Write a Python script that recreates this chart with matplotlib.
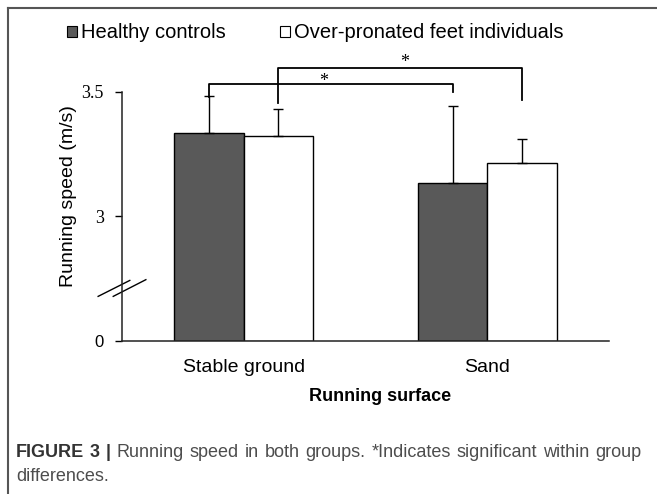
import numpy as np
import matplotlib.pyplot as plt
from matplotlib.lines import Line2D
from matplotlib.patches import Patch

# Data
surfaces = ['Stable ground', 'Sand']
groups = ['Healthy controls', 'Over-pronated feet individuals']
healthy_mean = [3.334, 3.135]
healthy_sd = [0.149, 0.308]
overpron_mean = [3.323, 3.215]
overpron_sd = [0.108, 0.096]
ytick_vals = [2.5, 3.0, 3.5]       # 2.5 is drawn as the broken "0"
ytick_labels = ['0', '3', '3.5']

dark = '#595959'
base = 2.5
width = 0.285

fig = plt.figure(figsize=(6.57, 4.94), dpi=100)
ax = fig.add_axes([122 / 657, 1 - 341 / 494, 487 / 657, (341 - 91.7) / 494])

x = np.arange(len(surfaces))
ax.bar(x - width / 2, np.array(healthy_mean) - base, width, bottom=base,
       color=dark, edgecolor='black', linewidth=1, zorder=2)
ax.bar(x + width / 2, np.array(overpron_mean) - base, width, bottom=base,
       color='white', edgecolor='black', linewidth=1, zorder=2)
ax.errorbar(x - width / 2, healthy_mean, yerr=[np.zeros(2), healthy_sd],
            fmt='none', ecolor='black', elinewidth=1, capsize=3.5, capthick=1, zorder=3)
ax.errorbar(x + width / 2, overpron_mean, yerr=[np.zeros(2), overpron_sd],
            fmt='none', ecolor='black', elinewidth=1, capsize=3.5, capthick=1, zorder=3)

# significance brackets
def bracket(x1, x2, y, y1, y2, tx, dy):
    ax.plot([x1, x1, x2, x2], [y1, y, y, y2], color='black', lw=1.3,
            clip_on=False, zorder=4)
    ax.text(tx, y + dy, '*', ha='center', va='center', fontsize=13,
            family='Liberation Serif', clip_on=False)

bracket(-width / 2, 1 - width / 2, 3.53, 3.48, 3.50, 0.33, 0.010)
bracket(width / 2, 1 + width / 2, 3.595, 3.455, 3.467, 0.66, 0.024)

ax.set_xlim(-0.5, 1.5)
ax.set_ylim(2.5, 3.5)
ax.set_xticks(x)
ax.set_xticklabels(surfaces, fontsize=14, family='Liberation Sans')
ax.tick_params(axis='x', length=0, pad=13)
ax.set_yticks(ytick_vals)
ax.set_yticklabels(ytick_labels)
for lab in ax.get_yticklabels():
    if lab.get_text() == '0':
        lab.set_family('Liberation Sans')
        lab.set_fontsize(12)
    else:
        lab.set_family('Liberation Serif')
        lab.set_fontsize(13)
ax.tick_params(axis='y', direction='out', length=5, width=1, pad=8)

for s in ['top', 'right']:
    ax.spines[s].set_visible(False)
for s in ['left', 'bottom']:
    ax.spines[s].set_linewidth(1.1)
    ax.spines[s].set_color('#222222')

# axis break marks
trans = ax.get_yaxis_transform()
ax.plot([-0.049, 0.016], [2.679, 2.743], color='black', lw=1, transform=trans, clip_on=False)
ax.plot([-0.018, 0.049], [2.679, 2.746], color='black', lw=1, transform=trans, clip_on=False)

ax.set_ylabel('Running speed (m/s)', fontsize=14, family='Liberation Sans')
ax.yaxis.set_label_coords(-0.092, 0.58)
ax.set_xlabel('Running surface', fontsize=13, fontweight='bold', family='Liberation Sans')
ax.xaxis.set_label_coords(0.53, -0.19)

handles = [Patch(facecolor=dark, edgecolor='black', lw=0.8),
           Patch(facecolor='white', edgecolor='black', lw=0.8)]
fig.legend(handles, groups, loc='center left', bbox_to_anchor=(67 / 657, 1 - 33 / 494),
           ncol=2, frameon=False, handlelength=0.5, handleheight=0.5,
           handletextpad=0.2, columnspacing=2.7, borderaxespad=0, borderpad=0,
           prop={'family': 'Liberation Sans', 'size': 14.5})

# caption, first line justified across the frame
line1 = [('FIGURE', 'bold'), ('3', 'bold'), ('|', 'bold'), ('Running', 'normal'),
         ('speed', 'normal'), ('in', 'normal'), ('both', 'normal'), ('groups.', 'normal'),
         ('*Indicates', 'normal'), ('significant', 'normal'), ('within', 'normal'),
         ('group', 'normal')]
cap_kw = dict(fontsize=13, family='Liberation Sans', va='center')
renderer = fig.canvas.get_renderer()
words = []
for w, wt in line1:
    t = fig.text(0, 1 - 452 / 494, w, fontweight=wt,
                 color='#333333' if wt == 'bold' else '#4d4d4d', **cap_kw)
    words.append(t)
widths = [t.get_window_extent(renderer).width for t in words]
x0, x1 = 16, 641
gap = (x1 - x0 - sum(widths)) / (len(words) - 1)
xpos = x0
for t, wpx in zip(words, widths):
    t.set_x(xpos / 657)
    xpos += wpx + gap
fig.text(16 / 657, 1 - 476 / 494, 'differences.', color='#4d4d4d', **cap_kw)

# figure frame
fig.add_artist(Line2D([8 / 657, 8 / 657], [0, 1 - 8 / 494], color='#555555', lw=1.5))
fig.add_artist(Line2D([8 / 657, 1], [1 - 8 / 494, 1 - 8 / 494], color='#555555', lw=1.5))

fig.savefig('out.png', dpi=100)
